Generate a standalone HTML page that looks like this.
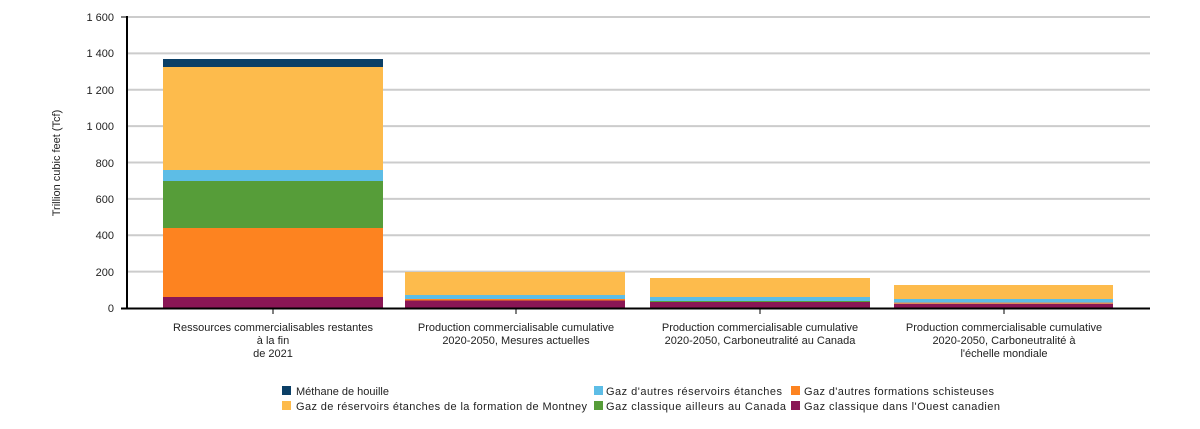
<!DOCTYPE html>
<html><head><meta charset="utf-8"><style>body{margin:0;background:#fff}svg{display:block;font-family:"Liberation Sans",sans-serif}</style></head><body>
<svg width="1200" height="429" xmlns="http://www.w3.org/2000/svg">
<g stroke="#cccccc" stroke-width="2">
<line x1="127" x2="1150" y1="17" y2="17"/><line x1="127" x2="1150" y1="53.4" y2="53.4"/><line x1="127" x2="1150" y1="89.8" y2="89.8"/><line x1="127" x2="1150" y1="126.1" y2="126.1"/><line x1="127" x2="1150" y1="162.5" y2="162.5"/><line x1="127" x2="1150" y1="198.9" y2="198.9"/><line x1="127" x2="1150" y1="235.3" y2="235.3"/><line x1="127" x2="1150" y1="271.6" y2="271.6"/>
</g>
<g font-size="11" fill="#222" text-anchor="end">
<text x="114" y="21">1 600</text><text x="114" y="57">1 400</text><text x="114" y="94">1 200</text><text x="114" y="130">1 000</text><text x="114" y="167">800</text><text x="114" y="203">600</text><text x="114" y="239">400</text><text x="114" y="276">200</text><text x="114" y="312">0</text>
</g>
<text transform="translate(60,163) rotate(-90)" font-size="11" fill="#222" text-anchor="middle">Trillion cubic feet (Tcf)</text>
<rect x="163" y="59" width="220" height="8" fill="#0b3f66"/>
<rect x="163" y="67" width="220" height="103" fill="#fdbb4c"/>
<rect x="163" y="170" width="220" height="11" fill="#5dbde6"/>
<rect x="163" y="181" width="220" height="47" fill="#569d39"/>
<rect x="163" y="228" width="220" height="69" fill="#fd8320"/>
<rect x="163" y="297" width="220" height="11" fill="#8a1655"/>
<rect x="405" y="272" width="220" height="23" fill="#fdbb4c"/>
<rect x="405" y="295" width="220" height="4" fill="#5dbde6"/>
<rect x="405" y="299" width="220" height="1.5" fill="#fd8320"/>
<rect x="405" y="300.5" width="220" height="7.5" fill="#8a1655"/>
<rect x="650" y="278" width="220" height="19" fill="#fdbb4c"/>
<rect x="650" y="297" width="220" height="4" fill="#5dbde6"/>
<rect x="650" y="301" width="220" height="1" fill="#569d39"/>
<rect x="650" y="302" width="220" height="6" fill="#8a1655"/>
<rect x="894" y="285" width="219" height="14" fill="#fdbb4c"/>
<rect x="894" y="299" width="219" height="3.5" fill="#5dbde6"/>
<rect x="894" y="302.5" width="219" height="1.5" fill="#e08a5a"/>
<rect x="894" y="304" width="219" height="4" fill="#8a1655"/>
<line x1="127" x2="127" y1="16" y2="309" stroke="#000" stroke-width="2"/>
<line x1="121" x2="127" y1="17" y2="17" stroke="#000"/>
<line x1="121" x2="1150" y1="308.5" y2="308.5" stroke="#000" stroke-width="2"/>
<g stroke="#000"><line x1="273" x2="273" y1="309" y2="314"/><line x1="516" x2="516" y1="309" y2="314"/><line x1="760" x2="760" y1="309" y2="314"/><line x1="1004" x2="1004" y1="309" y2="314"/></g>
<g font-size="11" fill="#222" text-anchor="middle">
<text x="273" y="331">Ressources commercialisables restantes</text><text x="273" y="344">à la fin</text><text x="273" y="357">de 2021</text>
<text x="516" y="331">Production commercialisable cumulative</text><text x="516" y="344">2020-2050, Mesures actuelles</text>
<text x="760" y="331">Production commercialisable cumulative</text><text x="760" y="344">2020-2050, Carboneutralité au Canada</text>
<text x="1004" y="331">Production commercialisable cumulative</text><text x="1004" y="344">2020-2050, Carboneutralité à</text><text x="1004" y="357">l'échelle mondiale</text>
</g>
<g font-size="11" fill="#222">
<rect x="282" y="386" width="9" height="9" fill="#0b3f66"/><text x="296" y="395">Méthane de houille</text>
<rect x="282" y="401" width="9" height="9" fill="#fdbb4c"/><text x="296" y="410" textLength="291" lengthAdjust="spacing">Gaz de réservoirs étanches de la formation de Montney</text>
<rect x="594" y="386" width="9" height="9" fill="#5dbde6"/><text x="606" y="395" textLength="176" lengthAdjust="spacing">Gaz d'autres réservoirs étanches</text>
<rect x="594" y="401" width="9" height="9" fill="#569d39"/><text x="606" y="410" textLength="180" lengthAdjust="spacing">Gaz classique ailleurs au Canada</text>
<rect x="791" y="386" width="9" height="9" fill="#fd8320"/><text x="804" y="395" textLength="190" lengthAdjust="spacing">Gaz d'autres formations schisteuses</text>
<rect x="791" y="401" width="9" height="9" fill="#8a1655"/><text x="804" y="410" textLength="196" lengthAdjust="spacing">Gaz classique dans l'Ouest canadien</text>
</g>
</svg>
</body></html>
